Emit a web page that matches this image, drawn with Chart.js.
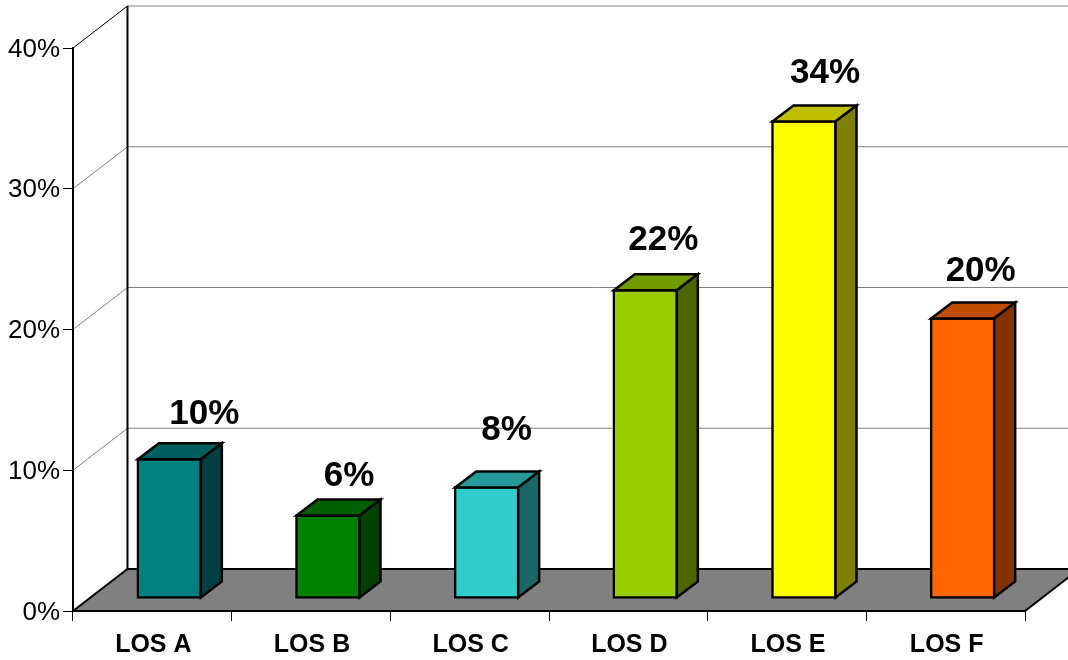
<!DOCTYPE html>
<html>
<head>
<meta charset="utf-8">
<style>
    html, body { margin: 0; padding: 0; background: #fff; }
    canvas { display: block; }
</style>
</head>
<body>
<canvas id="losChart" width="1068" height="660"></canvas>
<script src="https://cdn.jsdelivr.net/npm/chart.js"></script>
<script>
    const categories = ["LOS A", "LOS B", "LOS C", "LOS D", "LOS E", "LOS F"];
    const shares = [10, 6, 8, 22, 34, 20];
    const yTicks = [0, 10, 20, 30, 40];

    const frontColors = ["#008080", "#008000", "#33cccc", "#99cc00", "#ffff00", "#ff6600"];
    const topColors = ["#006060", "#006000", "#269999", "#739900", "#bfbf00", "#bf4c00"];
    const sideColors = ["#004040", "#004000", "#1a6666", "#4d6600", "#808000", "#803300"];

    // box depth of the floor/walls and of each bar
    const wallDx = 54.5, wallDy = 42;
    const barShiftX = 17, barShiftY = 12;
    const barDx = 21, barDy = 16;
    const outline = 2.5;

    // hand placed value labels, relative to the bar's front top edge
    const labelNudge = [[35, -44], [21, -38], [20, -56], [18, -49], [21, -47], [18, -46]];

    function poly(ctx, pts, fill, stroke, width) {
        ctx.beginPath();
        pts.forEach((p, i) => i ? ctx.lineTo(p[0], p[1]) : ctx.moveTo(p[0], p[1]));
        ctx.closePath();
        if (fill) { ctx.fillStyle = fill; ctx.fill(); }
        if (stroke) { ctx.strokeStyle = stroke; ctx.lineWidth = width; ctx.lineJoin = "miter"; ctx.stroke(); }
    }

    function line(ctx, x1, y1, x2, y2, color, width) {
        ctx.beginPath();
        ctx.moveTo(x1, y1);
        ctx.lineTo(x2, y2);
        ctx.strokeStyle = color;
        ctx.lineWidth = width;
        ctx.stroke();
    }

    const box3d = {
        id: "box3d",
        // back wall, side wall gridlines and the grey floor
        beforeDraw(chart) {
            const { ctx, chartArea: a, scales: { y } } = chart;
            const bx = a.left + wallDx, rx = a.right + wallDx;
            ctx.save();
            yTicks.forEach(v => {
                const py = y.getPixelForValue(v);
                if (v > 0) {
                    line(ctx, bx, py - wallDy, rx, py - wallDy, "#808080", 1);
                    line(ctx, a.left, py, bx, py - wallDy, v === 40 ? "#000" : "#808080", 1);
                }
            });
            line(ctx, bx, a.top - wallDy, bx, a.bottom - wallDy, "#000", 2);
            poly(ctx, [[a.left, a.bottom], [bx, a.bottom - wallDy], [rx, a.bottom - wallDy], [a.right, a.bottom]],
                "#808080", "#000", 2);
            ctx.restore();
        },
        // bars stand a little behind the front edge of the floor
        beforeDatasetDraw(chart) {
            chart.ctx.save();
            chart.ctx.translate(barShiftX, -barShiftY);
        },
        afterDatasetDraw(chart, args) {
            const ctx = chart.ctx;
            args.meta.data.forEach((bar, i) => {
                const l = bar.x - bar.width / 2 + 1, r = bar.x + bar.width / 2 - 1;
                const t = bar.y + 1, b = bar.base - 1;
                poly(ctx, [[l, t], [l + barDx, t - barDy], [r + barDx, t - barDy], [r, t]], topColors[i], "#000", outline);
                poly(ctx, [[r, t], [r + barDx, t - barDy], [r + barDx, b - barDy], [r, b]], sideColors[i], "#000", outline);
            });
            ctx.restore();

            ctx.save();
            ctx.fillStyle = "#000";
            ctx.font = "bold 35px 'Liberation Sans'";
            ctx.textAlign = "center";
            ctx.textBaseline = "middle";
            args.meta.data.forEach((bar, i) => {
                ctx.fillText(shares[i] + "%",
                    bar.x + barShiftX + labelNudge[i][0],
                    bar.y - barShiftY + labelNudge[i][1]);
            });
            ctx.restore();
        }
    };

    new Chart(document.getElementById("losChart").getContext("2d"), {
        type: "bar",
        data: {
            labels: categories,
            datasets: [{
                data: shares,
                backgroundColor: frontColors,
                borderColor: "#000",
                borderWidth: outline,
                borderSkipped: false,
                barThickness: 65
            }]
        },
        plugins: [box3d],
        options: {
            responsive: false,
            animation: false,
            layout: { padding: { top: 48, right: 43, left: 0, bottom: 0 } },
            plugins: { legend: { display: false }, tooltip: { enabled: false } },
            scales: {
                x: {
                    afterFit: s => { s.height = 49; },
                    grid: { drawOnChartArea: false, tickLength: 10, tickColor: "#000", tickWidth: 1 },
                    border: { color: "#000", width: 2 },
                    ticks: {
                        color: "#000",
                        padding: 9,
                        labelOffset: 1,
                        maxRotation: 0,
                        autoSkip: false,
                        font: { family: "Liberation Sans", size: 25, weight: "bold" }
                    }
                },
                y: {
                    min: 0,
                    max: 40,
                    afterFit: s => { s.width = 73; },
                    afterBuildTicks: s => { s.ticks = yTicks.map(v => ({ value: v })); },
                    grid: { drawOnChartArea: false, tickLength: 10, tickColor: "#000", tickWidth: 1 },
                    border: { color: "#000", width: 2 },
                    ticks: {
                        color: "#000",
                        padding: 3,
                        labelOffset: 1.5,
                        callback: v => v + "%",
                        font: { family: "Liberation Sans", size: 26 }
                    }
                }
            }
        }
    });
</script>
</body>
</html>
